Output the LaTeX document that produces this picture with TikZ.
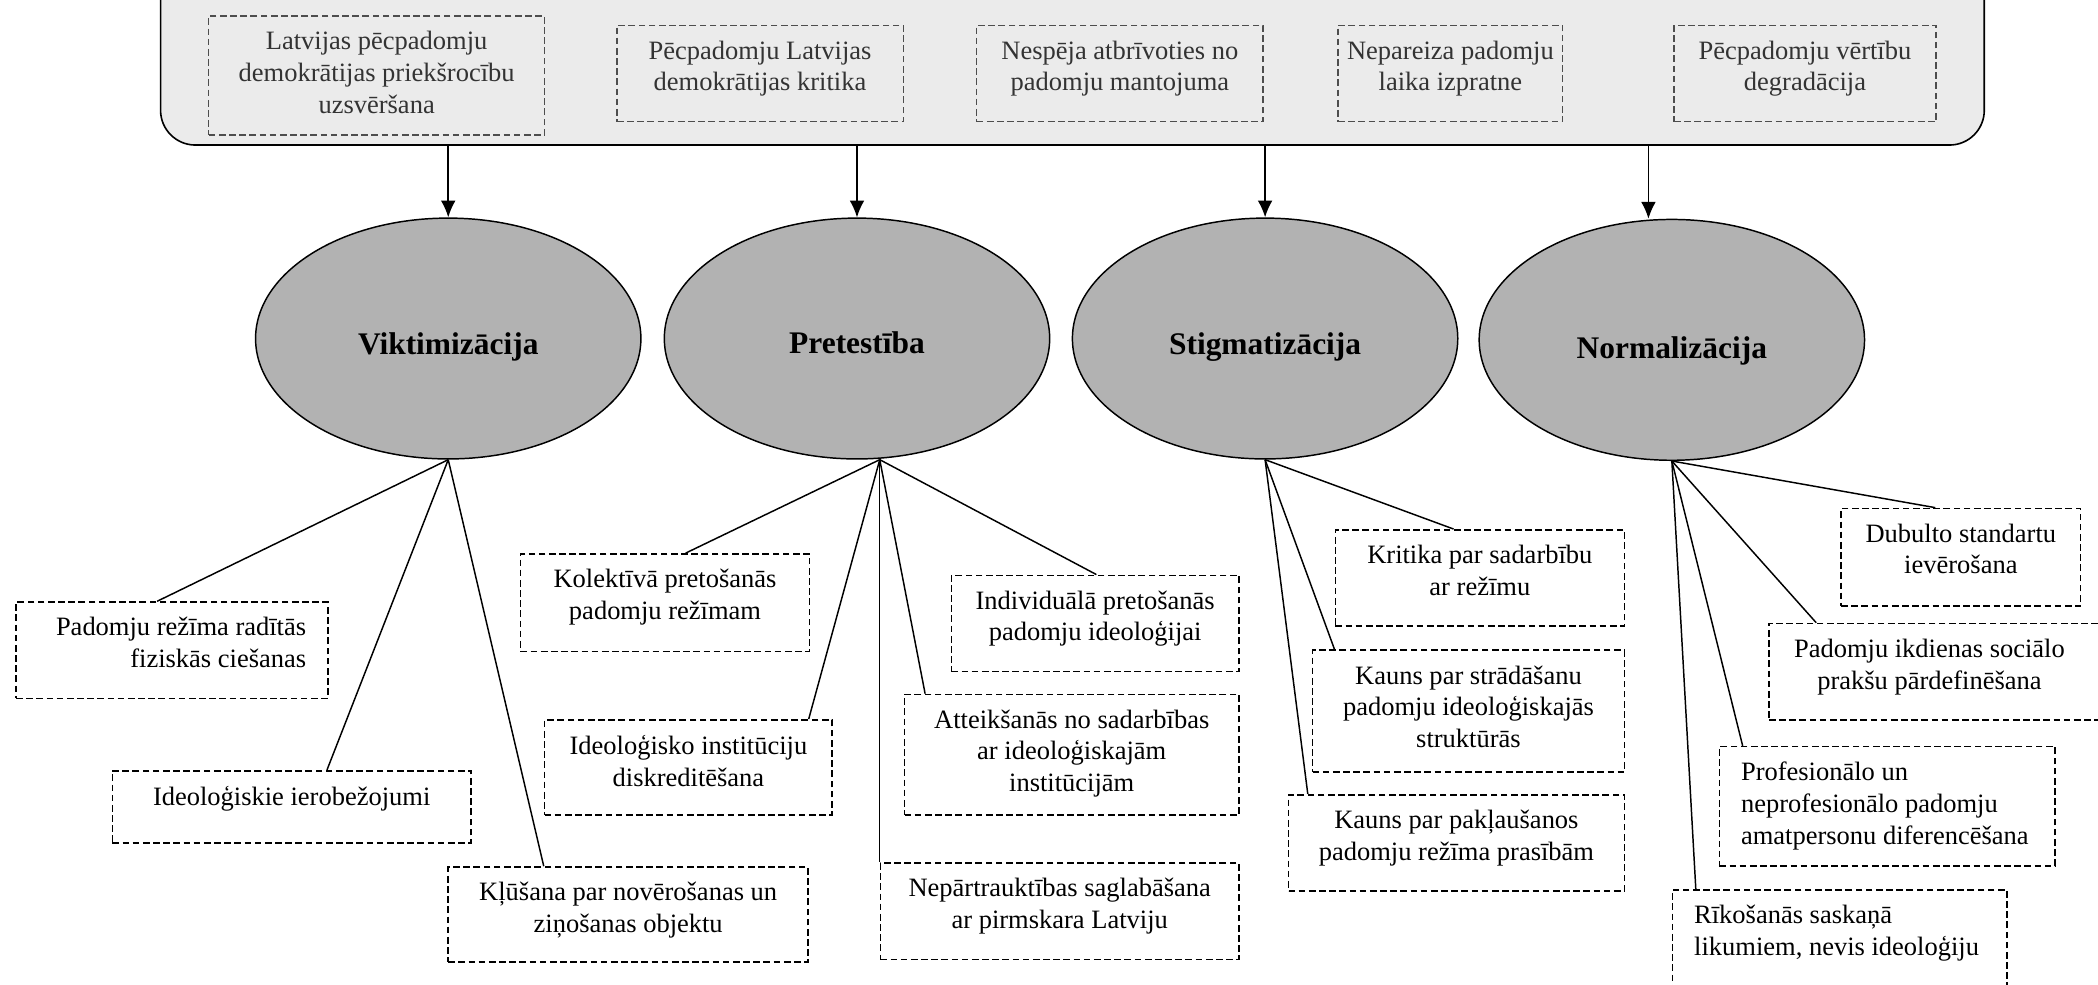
\documentclass[tikz,border=0pt]{standalone}
\usepackage{fontspec}
\setmainfont{Liberation Serif}
\usetikzlibrary{shapes.geometric,arrows.meta,calc}

\definecolor{panelfill}{HTML}{EBEBEB}
\definecolor{ellfill}{HTML}{B2B2B2}
\definecolor{paneltext}{HTML}{333333}
\definecolor{paneldash}{HTML}{4D4D4D}

\tikzset{
  boxframe/.style={draw, line width=1.2pt, dash pattern=on 5pt off 2.6pt, inner sep=0pt},
  pboxframe/.style={draw=paneldash, line width=1pt, dash pattern=on 5pt off 2.6pt, inner sep=0pt},
  btext/.style={font=\fontsize{19.8}{23.7}\selectfont, inner sep=0pt},
  tc/.style={anchor=north, align=center},
  tl/.style={anchor=north west, align=left},
  tr/.style={anchor=north east, align=right},
  ptc/.style={tc, text=paneltext},
  ell/.style={ellipse, draw, fill=ellfill, line width=1.1pt, minimum width=288pt, minimum height=180pt, inner sep=0pt},
  ttl/.style={font=\fontsize{23.5}{28}\selectfont\bfseries, inner sep=0pt, anchor=base},
  conn/.style={line width=1.1pt},
  arr/.style={line width=1.2pt, -{Latex[length=12.5pt,width=11pt]}},
}

% #1 frame style, #2 name, #3 x1, #4 y1, #5 x2, #6 y2, #7 text style, #8 text x, #9 text
\newcommand\dbox[9]{%
  \node[#1, minimum width={(#5-#3)*1pt}, minimum height={(#6-#4)*1pt}] (#2) at ({(#3+#5)/2},{(#4+#6)/2}) {};
  \node[btext,#7] (#2t) at ({#8},{#4+11.3}) {#9};
}

\begin{document}
\begin{tikzpicture}[x=1pt,y=-1pt]
\useasboundingbox (0,0) rectangle (1568,736);
\clip (0,0) rectangle (1568,736);

% top panel
\node[draw, fill=panelfill, rounded corners=26pt, line width=1.2pt, minimum width=1363pt, minimum height=150pt, inner sep=0pt] (panel) at (801.5,33.4) {};

\dbox{pboxframe}{t1}{156}{12}{407}{101}{ptc}{281.5}{Latvijas pēcpadomju\\demokrātijas priekšrocību\\uzsvēršana}
\dbox{pboxframe}{t2}{461}{19}{675}{91}{ptc}{568}{Pēcpadomju Latvijas\\demokrātijas kritika}
\dbox{pboxframe}{t3}{730}{19}{944}{91}{ptc}{837}{Nespēja atbrīvoties no\\padomju mantojuma}
\dbox{pboxframe}{t4}{1000}{19}{1168}{91}{ptc}{1084}{Nepareiza padomju\\laika izpratne}
\dbox{pboxframe}{t5}{1251}{19}{1447}{91}{ptc}{1349}{Pēcpadomju vērtību\\degradācija}

% ellipses
\node[ell] (v) at (335,253) {};
\node[ell] (p) at (640.5,253) {};
\node[ell] (s) at (945.5,253) {};
\node[ell] (n) at (1249.5,254) {};
\node[ttl] (vt) at ($(v.center)+(0,12)$) {Viktimizācija};
\node[ttl] (pt) at ($(p.center)+(0,11)$) {Pretestība};
\node[ttl] (st) at ($(s.center)+(0,12)$) {Stigmatizācija};
\node[ttl] (nt) at ($(n.center)+(0,14)$) {Normalizācija};

% arrows from panel
\coordinate (na) at ($(n.north)+(-17.5,0)$);
\draw[arr] (v.north |- panel.south) -- (v.north);
\draw[arr] (p.north |- panel.south) -- (p.north);
\draw[arr] (s.north |- panel.south) -- (s.north);
\draw[arr] (na |- panel.south) -- (na);

% bottom boxes
\dbox{boxframe}{v1}{12}{450}{245}{522}{tr}{229}{Padomju režīma radītās\\fiziskās ciešanas}
\dbox{boxframe}{v2}{84}{576}{352}{630}{tc}{218}{Ideoloģiskie ierobežojumi}
\dbox{boxframe}{v3}{335}{648}{604}{719}{tc}{469.5}{Kļūšana par novērošanas un\\ziņošanas objektu}

\dbox{boxframe}{p1}{389}{414}{605}{487}{tc}{497}{Kolektīvā pretošanās\\padomju režīmam}
\dbox{boxframe}{p2}{407}{538}{622}{609}{tc}{514.5}{Ideoloģisko institūciju\\diskreditēšana}
\dbox{boxframe}{p3}{658}{645}{926}{717}{tc}{792}{Nepārtrauktības saglabāšana\\ar pirmskara Latviju}
\dbox{boxframe}{p4}{676}{519}{926}{609}{tc}{801}{Atteikšanās no sadarbības\\ar ideoloģiskajām\\institūcijām}
\dbox{boxframe}{p5}{711}{430}{926}{502}{tc}{818.5}{Individuālā pretošanās\\padomju ideoloģijai}

\dbox{boxframe}{s1}{998}{396}{1214}{468}{tc}{1106}{Kritika par sadarbību\\ar režīmu}
\dbox{boxframe}{s2}{981}{486}{1214}{577}{tc}{1097.5}{Kauns par strādāšanu\\padomju ideoloģiskajās\\struktūrās}
\dbox{boxframe}{s3}{963}{594}{1214}{666}{tc}{1088.5}{Kauns par pakļaušanos\\padomju režīma prasībām}

\dbox{boxframe}{n1}{1376}{380}{1555}{453}{tc}{1465.5}{Dubulto standartu\\ievērošana}
\dbox{boxframe}{n2}{1322}{466}{1580}{538}{tc}{1442}{Padomju ikdienas sociālo\\prakšu pārdefinēšana}
\dbox{boxframe}{n3}{1285}{558}{1536}{647}{tl}{1301}{Profesionālo un\\neprofesionālo padomju\\amatpersonu diferencēšana}
\dbox{boxframe}{n4}{1250}{665}{1500}{740}{tl}{1266}{Rīkošanās saskaņā\\likumiem, nevis ideoloģiju}

% connectors
\coordinate (pr) at ($(p.south)+(17,0)$);
\draw[conn] (v.south) -- ($(v1.north west)+(106,0)$);
\draw[conn] (v.south) -- ($(v2.north west)+(161,0)$);
\draw[conn] (v.south) -- ($(v3.north west)+(72,0)$);

\draw[conn] (pr) -- ($(p1.north west)+(124,0)$);
\draw[conn] (pr) -- ($(p2.north west)+(198,0)$);
\draw[conn] (pr) -- (pr |- p3.north);
\draw[conn] (pr) -- ($(p4.north west)+(16,0)$);
\draw[conn] (pr) -- ($(p5.north west)+(109,0)$);

\draw[conn] (s.south) -- ($(s1.north west)+(89,0)$);
\draw[conn] (s.south) -- ($(s2.north west)+(17,0)$);
\draw[conn] (s.south) -- ($(s3.north west)+(15,0)$);

\draw[conn] (n.south) -- ($(n1.north west)+(71,0)$);
\draw[conn] (n.south) -- ($(n2.north west)+(36,0)$);
\draw[conn] (n.south) -- ($(n3.north west)+(18,0)$);
\draw[conn] (n.south) -- ($(n4.north west)+(18,0)$);
\end{tikzpicture}
\end{document}
